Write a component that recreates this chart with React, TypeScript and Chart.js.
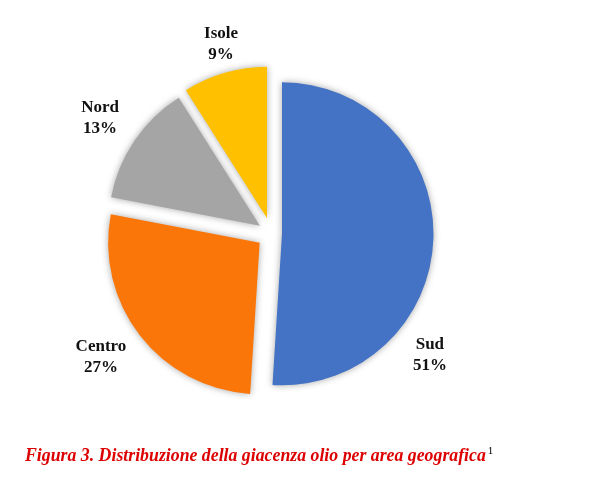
import React, { useEffect, useRef } from "react";
import { Chart, registerables } from "chart.js";

Chart.register(...registerables);

const categories = ["Sud", "Centro", "Nord", "Isole"];
const values = [51, 27, 13, 9];
const percentLabels = ["51%", "27%", "13%", "9%"];
const sliceColors = ["#4472C4", "#FB7608", "#A5A5A5", "#FFC000"];

// style: explode distance (px) per slice, and label placement
// (angle in degrees clockwise from top, distance in radii)
const explodeDistances = [10.5, 15, 14, 16];
const labelAngles = [127.4, 234.2, 304, 345.1];
const labelDistances = [1.316, 1.388, 1.365, 1.294];

const explodePlugin = {
  id: "explodeSlices",
  beforeDatasetDraw(chart: any, args: any) {
    const ctx = chart.ctx;
    const meta = args.meta;
    ctx.save();
    ctx.shadowColor = "rgba(0,0,0,0.35)";
    ctx.shadowBlur = 7;
    ctx.shadowOffsetX = 0;
    ctx.shadowOffsetY = 0;
    meta.data.forEach((arc: any, i: number) => {
      const mid = (arc.startAngle + arc.endAngle) / 2;
      const d = explodeDistances[i] || 0;
      ctx.save();
      ctx.translate(Math.cos(mid) * d, Math.sin(mid) * d);
      arc.draw(ctx);
      ctx.restore();
    });
    ctx.restore();
    return false;
  },
};

const labelPlugin = {
  id: "outerLabels",
  afterDraw(chart: any) {
    const ctx = chart.ctx;
    const meta = chart.getDatasetMeta(0);
    ctx.save();
    ctx.fillStyle = "#111111";
    ctx.font = 'bold 17px "Liberation Serif", "DejaVu Serif", serif';
    ctx.textAlign = "center";
    ctx.textBaseline = "middle";
    meta.data.forEach((arc: any, i: number) => {
      const r = arc.outerRadius;
      const a = (labelAngles[i] * Math.PI) / 180;
      const d = labelDistances[i] * r;
      const x = arc.x + Math.sin(a) * d;
      const y = arc.y - Math.cos(a) * d;
      ctx.fillText(categories[i], x, y - 10);
      ctx.fillText(percentLabels[i], x, y + 11);
    });
    ctx.restore();
  },
};

export default function App() {
  const canvasRef = useRef<HTMLCanvasElement | null>(null);

  useEffect(() => {
    const canvas = canvasRef.current;
    if (!canvas) return;
    const chart = new Chart(canvas, {
      type: "pie",
      data: {
        labels: categories,
        datasets: [
          {
            data: values,
            backgroundColor: sliceColors,
            borderWidth: 0,
            offset: 0,
          },
        ],
      },
      options: {
        responsive: false,
        animation: false,
        radius: 151.5,
        rotation: 0,
        layout: { padding: { left: 0, right: 62, top: 0, bottom: 10 } },
        plugins: {
          legend: { display: false },
          tooltip: { enabled: false },
        },
      },
      plugins: [explodePlugin, labelPlugin],
    });
    return () => chart.destroy();
  }, []);

  return (
    <div style={{ position: "absolute", left: 0, top: 0, width: 605, height: 477, background: "#fff" }}>
      <canvas ref={canvasRef} width={605} height={477} style={{ position: "absolute", left: 0, top: 0 }} />
      <div
        style={{
          position: "absolute",
          left: 25,
          top: 440,
          fontFamily: '"Liberation Serif", "DejaVu Serif", serif',
          fontSize: 17.8,
          lineHeight: "20px",
          fontWeight: "bold",
          fontStyle: "italic",
          color: "#DD0000",
          whiteSpace: "nowrap",
        }}
      >
        Figura 3. Distribuzione della giacenza olio per area geografica
        <sup style={{ fontSize: 11, fontWeight: "normal", fontStyle: "normal", color: "#000", verticalAlign: "7px", marginLeft: 2 }}>1</sup>
      </div>
    </div>
  );
}
